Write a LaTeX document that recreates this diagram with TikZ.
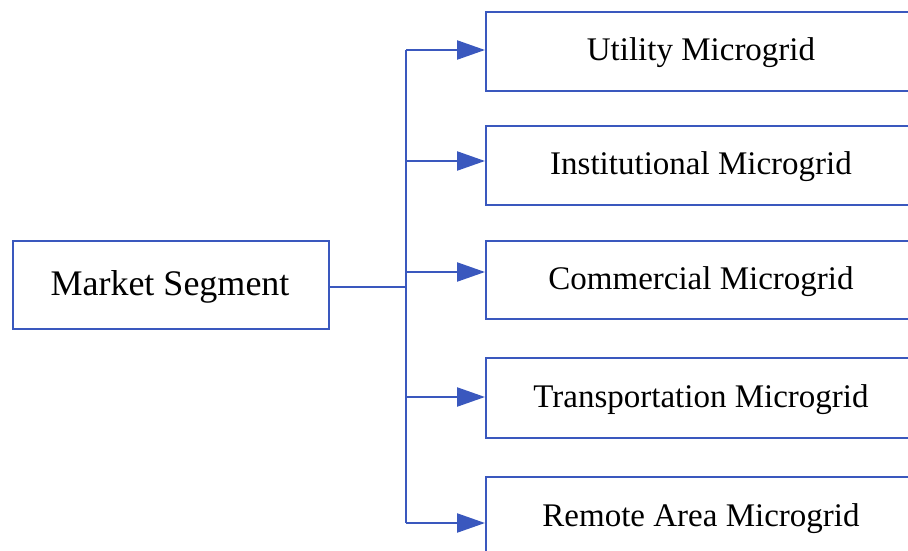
\documentclass[tikz,border=0pt]{standalone}
\usepackage{fontspec}
\setmainfont{Liberation Serif}
\usetikzlibrary{arrows.meta}
\definecolor{lineblue}{RGB}{58,88,190}
\begin{document}
\begin{tikzpicture}[x=1pt,y=-1pt,
  boxstyle/.style={draw=lineblue, line width=2.3pt, fill=white, inner sep=0pt, anchor=north west},
  labelstyle/.style={font=\fontsize{33}{36}\selectfont, text=black},
  conn/.style={draw=lineblue, line width=2.3pt},
  arr/.style={conn, -{Triangle[length=28pt,width=19pt]}, shorten >=0pt}]
\useasboundingbox (0,0) rectangle (908,551);
\clip (0,0) rectangle (908,551);
% left box
\node[boxstyle, minimum width=316pt, minimum height=88pt] (ms) at (12,240) {};
\node[labelstyle, font=\fontsize{36}{40}\selectfont] (mst) at (170,287) {Market Segment};
% right boxes
\node[boxstyle, minimum width=432pt, minimum height=79pt] (b1) at (485,11) {};
\node[boxstyle, minimum width=432pt, minimum height=79pt] (b2) at (485,125) {};
\node[boxstyle, minimum width=432pt, minimum height=78pt] (b3) at (485,240) {};
\node[boxstyle, minimum width=432pt, minimum height=80pt] (b4) at (485,357) {};
\node[boxstyle, minimum width=432pt, minimum height=80pt] (b5) at (485,476) {};
\node[labelstyle] (t1) at (701,53) {Utility Microgrid};
\node[labelstyle] (t2) at (701,167) {Institutional Microgrid};
\node[labelstyle] (t3) at (701,282) {Commercial Microgrid};
\node[labelstyle] (t4) at (701,400) {Transportation Microgrid};
\node[labelstyle] (t5) at (701,519) {Remote Area Microgrid};
% junctions
\coordinate (j0) at (406,287);
\coordinate (j1) at (406,50);
\coordinate (j2) at (406,161);
\coordinate (j3) at (406,272);
\coordinate (j4) at (406,397);
\coordinate (j5) at (406,523);
\draw[conn] (j1) -- (j5);
\draw[conn] (ms.east |- j0) -- (j0);
\draw[arr] (j1) -- (j1 -| b1.west);
\draw[arr] (j2) -- (j2 -| b2.west);
\draw[arr] (j3) -- (j3 -| b3.west);
\draw[arr] (j4) -- (j4 -| b4.west);
\draw[arr] (j5) -- (j5 -| b5.west);
\end{tikzpicture}
\end{document}
